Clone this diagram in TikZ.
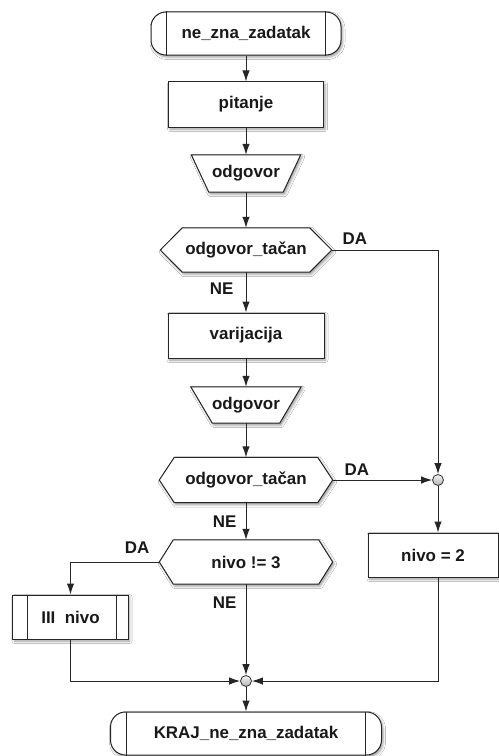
\documentclass[tikz,border=0pt]{standalone}
\usepackage{fontspec}
\setmainfont{Liberation Sans}
\usetikzlibrary{arrows.meta,backgrounds,shadows.blur}

\begin{document}
\begin{tikzpicture}[x=1bp,y=-1bp,
  line/.style={draw=black!85, line width=1bp},
  flow/.style={line, -{Latex[length=11bp,width=7.5bp]}},
  txt/.style={font=\bfseries\fontsize{17}{19}\selectfont, text=black!90, inner sep=0pt},
  boxshadow/.style={blur shadow={shadow xshift=1.5bp, shadow yshift=-2bp, shadow blur radius=2.5bp, shadow opacity=40}},
  procbox/.style={txt, rectangle, line, fill=white, boxshadow},
  termbox/.style={procbox, rounded corners=15bp},
  frame/.style={txt, rectangle, draw=none},
  shapeline/.style={line, fill=white, boxshadow},
  lab/.style={txt},
  junction/.style={circle, draw=black!80, line width=0.8bp, top color=gray!10, bottom color=gray!60, inner sep=0pt, minimum size=11bp},
]
\useasboundingbox (0,0) rectangle (499,756);

% main column
\node[termbox, minimum width=190bp, minimum height=43bp] (start) at (246,33.5) {ne\_zna\_zadatak};
\node[procbox, minimum width=155bp, minimum height=45bp] (pit) at (246,104.5) {pitanje};
\node[frame, minimum width=109bp, minimum height=37bp] (odg1) at (246,173.5) {odgovor};
\node[frame, minimum width=171bp, minimum height=44bp] (dec1) at (246,250) {odgovor\_tačan};
\node[procbox, minimum width=156bp, minimum height=45bp] (var) at (246,335.5) {varijacija};
\node[frame, minimum width=110bp, minimum height=36bp] (odg2) at (246,405) {odgovor};
\node[frame, minimum width=173bp, minimum height=45bp] (dec2) at (246,480) {odgovor\_tačan};
\node[frame, minimum width=173bp, minimum height=44bp] (dec3) at (246,562) {nivo != 3};
\node[junction] (j2) at (246,681) {};
\node[termbox, minimum width=271bp, minimum height=43bp] (kraj) at (246,733.5) {KRAJ\_ne\_zna\_zadatak};

% side branches
\node[procbox, minimum width=115bp, minimum height=44bp] (iii) at (70.5,617) {III\ \ nivo};
\node[procbox, minimum width=130bp, minimum height=44bp] (niv2) at (433,555) {nivo = 2};
\node[junction] (j1) at (438,480) {};

% vertical bars of the terminals and the predefined process
\draw[line] ([xshift=16bp]start.north west) -- ([xshift=16bp]start.south west);
\draw[line] ([xshift=-16bp]start.north east) -- ([xshift=-16bp]start.south east);
\draw[line] ([xshift=16bp]kraj.north west) -- ([xshift=16bp]kraj.south west);
\draw[line] ([xshift=-17bp]kraj.north east) -- ([xshift=-17bp]kraj.south east);
\draw[line] ([xshift=15bp]iii.north west) -- ([xshift=15bp]iii.south west);
\draw[line] ([xshift=-12bp]iii.north east) -- ([xshift=-12bp]iii.south east);

% input trapezia and decision hexagons
\begin{scope}[on background layer]
  \fill[white] (0,0) rectangle (499,756);
  \path[shapeline] (odg1.north west) -- (odg1.north east) -- ([xshift=-17.5bp]odg1.south east) -- ([xshift=17.5bp]odg1.south west) -- cycle;
  \path[shapeline] (odg2.north west) -- (odg2.north east) -- ([xshift=-21.5bp]odg2.south east) -- ([xshift=21.5bp]odg2.south west) -- cycle;
  \path[shapeline] (dec1.west) -- ([xshift=22bp]dec1.north west) -- ([xshift=-22bp]dec1.north east) -- (dec1.east) -- ([xshift=-22bp]dec1.south east) -- ([xshift=22bp]dec1.south west) -- cycle;
  \path[shapeline] (dec2.west) -- ([xshift=15bp]dec2.north west) -- ([xshift=-15bp]dec2.north east) -- (dec2.east) -- ([xshift=-15bp]dec2.south east) -- ([xshift=15bp]dec2.south west) -- cycle;
  \path[shapeline] (dec3.west) -- ([xshift=14bp]dec3.north west) -- ([xshift=-14bp]dec3.north east) -- (dec3.east) -- ([xshift=-14bp]dec3.south east) -- ([xshift=14bp]dec3.south west) -- cycle;
\end{scope}

% connectors
\draw[flow] (start) -- (pit);
\draw[flow] (pit) -- (odg1);
\draw[flow] (odg1) -- (dec1);
\draw[flow] (dec1) -- node[lab, pos=0.4, anchor=east, xshift=-12bp] {NE} (var);
\draw[flow] (dec1.east) -| node[lab, at start, anchor=south west, xshift=10.5bp, yshift=5bp] {DA} (j1.north);
\draw[flow] (var) -- (odg2);
\draw[flow] (odg2) -- (dec2);
\draw[flow] (dec2.east) -- node[lab, at start, anchor=south west, xshift=11.5bp, yshift=4bp] {DA} (j1.west);
\draw[flow] (j1) -- (j1 |- niv2.north);
\draw[flow] (dec2) -- node[lab, pos=0.5, anchor=east, xshift=-9bp] {NE} (dec3);
\draw[flow] (dec3.west) -| node[lab, at start, anchor=south east, xshift=-9.5bp, yshift=8bp] {DA} (iii.north);
\draw[flow] (dec3) -- node[lab, pos=0.2, anchor=east, xshift=-9bp] {NE} (j2);
\draw[flow] (iii) |- (j2);
\draw[flow] (niv2.south -| j1) |- (j2);
\draw[flow] (j2) -- (kraj);
\end{tikzpicture}
\end{document}
